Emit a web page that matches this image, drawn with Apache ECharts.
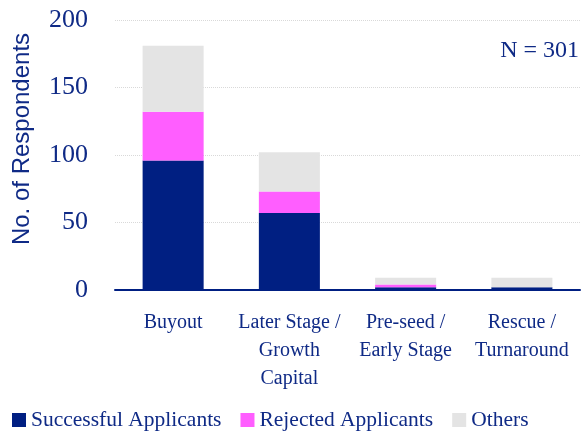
<!DOCTYPE html>
<html>
<head>
<meta charset="utf-8">
<script src="https://cdn.jsdelivr.net/npm/echarts@6/dist/echarts.min.js"></script>
<style>
  html, body { margin: 0; padding: 0; background: #fff; }
  #chart { width: 582px; height: 435px; }
</style>
</head>
<body>
<div id="chart"></div>
<script>
const categories = ['Buyout', 'Later Stage /\nGrowth\nCapital', 'Pre-seed /\nEarly Stage', 'Rescue /\nTurnaround']
const successful = [96, 57, 2, 2]
const rejected = [36, 16, 2, 0]
const others = [49, 29, 5, 7]

const navy = '#001f82'
const textColor = '#0f2a86'
const serif = 'Liberation Serif'

let myEchart = echarts.init(document.getElementById('chart'))
myEchart.setOption({
  animation: false,
  grid: { left: 115, right: 2, top: 20, bottom: 145 },
  legend: {
    left: 12,
    top: 409,
    padding: 0,
    itemWidth: 14,
    itemHeight: 14,
    itemGap: 19,
    icon: 'rect',
    textStyle: { fontFamily: serif, fontSize: 21.5, color: textColor },
    data: ['Successful Applicants', 'Rejected Applicants', 'Others']
  },
  graphic: [
    {
      type: 'text',
      right: 3,
      top: 39,
      style: { text: 'N = 301', fontFamily: serif, fontSize: 24, fill: textColor }
    },
    {
      type: 'text',
      x: 22,
      y: 139,
      rotation: Math.PI / 2,
      style: {
        text: 'No. of Respondents', fontFamily: 'Liberation Sans', fontSize: 24,
        fill: textColor, align: 'center', verticalAlign: 'middle'
      }
    }
  ],
  xAxis: {
    type: 'category',
    data: categories,
    axisTick: { show: false },
    axisLine: { lineStyle: { color: navy, width: 2 } },
    axisLabel: { fontFamily: serif, fontSize: 20, lineHeight: 28, color: textColor, margin: 19, interval: 0 }
  },
  yAxis: {
    type: 'value',
    min: 0,
    max: 200,
    interval: 50,
    axisLabel: { fontFamily: serif, fontSize: 26, color: textColor, margin: 27 },
    splitLine: { lineStyle: { color: '#d9d9d9', type: 'dotted', width: 1 } }
  },
  series: [
    { name: 'Successful Applicants', type: 'bar', stack: 'a', barWidth: '52.5%', itemStyle: { color: navy }, data: successful },
    { name: 'Rejected Applicants', type: 'bar', stack: 'a', itemStyle: { color: '#ff5eff' }, data: rejected },
    { name: 'Others', type: 'bar', stack: 'a', itemStyle: { color: '#e4e4e4' }, data: others }
  ]
})
</script>
</body>
</html>
